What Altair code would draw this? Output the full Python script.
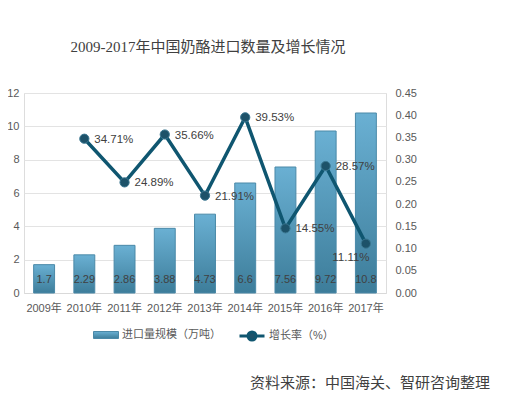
import altair as alt
import pandas as pd

years = ["2009年", "2010年", "2011年", "2012年", "2013年", "2014年", "2015年", "2016年", "2017年"]
volume = [1.7, 2.29, 2.86, 3.88, 4.73, 6.6, 7.56, 9.72, 10.8]
growth = [None, 0.3471, 0.2489, 0.3566, 0.2191, 0.3953, 0.1455, 0.2857, 0.1111]
bar_name = "进口量规模（万吨）"
line_name = "增长率（%）"
title_text = "2009-2017年中国奶酪进口数量及增长情况"
source_text = "资料来源：中国海关、智研咨询整理"
left_ticks = [0, 2, 4, 6, 8, 10, 12]
right_ticks = [0, 0.05, 0.10, 0.15, 0.20, 0.25, 0.30, 0.35, 0.40, 0.45]

df = pd.DataFrame({
    "year": years,
    "volume": volume,
    "growth": growth,
    "bar_series": [bar_name] * len(years),
    "line_series": [line_name] * len(years),
})

FONT = "Liberation Sans, Noto Sans CJK SC"
SERIF = "Liberation Serif, Noto Sans CJK SC"
LBL = "#595959"
TXT = "#404040"

left_axis = alt.Axis(values=left_ticks, tickCount=7, grid=True, gridColor="#e3e3e3",
                     domain=False, ticks=False, labelPadding=5, labelFont=FONT,
                     labelFontSize=11, labelColor=LBL, labelOverlap=False)
right_axis = alt.Axis(orient="right", values=right_ticks, tickCount=10, format=".2f",
                      grid=False, domain=False, ticks=False, labelPadding=9, labelFont=FONT,
                      labelFontSize=11, labelColor=LBL, labelOverlap=False)
left_scale = alt.Scale(domain=[0, 12], nice=False)
right_scale = alt.Scale(domain=[0, 0.45], nice=False)

base = alt.Chart(df).encode(
    x=alt.X("year:N", sort=years, title=None,
            scale=alt.Scale(paddingInner=0.48, paddingOuter=0.24),
            axis=alt.Axis(labelAngle=0, domain=True, domainColor="#d9d9d9", ticks=False,
                          labelPadding=9, labelFont=FONT, labelFontSize=11, labelColor=LBL))
)

grad = alt.Gradient(gradient="linear", x1=0, y1=0, x2=0, y2=1,
                    stops=[alt.GradientStop(color="#6ab0d3", offset=0),
                           alt.GradientStop(color="#3d7d9a", offset=1)])

bars = base.mark_bar(fill=grad, strokeWidth=1).encode(
    y=alt.Y("volume:Q", title=None, scale=left_scale, axis=left_axis),
    stroke=alt.Stroke("bar_series:N",
                      scale=alt.Scale(domain=[bar_name], range=["#4a89a8"]),
                      legend=alt.Legend(orient="none", legendX=69, legendY=229,
                                        direction="horizontal", title=None, padding=0,
                                        symbolType="M-1,-0.28H1V0.28H-1Z", symbolSize=625,
                                        symbolFillColor="#5b9fc1", symbolStrokeWidth=1,
                                        labelFont=FONT, labelFontSize=11, labelColor=LBL,
                                        labelOffset=3)),
)

bar_text = base.mark_text(baseline="middle", dy=-13, font=FONT, fontSize=11, color=TXT).encode(
    y=alt.Y(datum=0, title=None, scale=left_scale, axis=left_axis),
    text=alt.Text("volume:Q"),
)

bar_layer = alt.layer(bars, bar_text)

line = base.mark_line(strokeWidth=3.5).encode(
    y=alt.Y("growth:Q", title=None, scale=right_scale, axis=right_axis),
    stroke=alt.Stroke("line_series:N",
                      scale=alt.Scale(domain=[line_name], range=["#0f5670"]),
                      legend=alt.Legend(orient="none", legendX=214, legendY=229,
                                        direction="horizontal", title=None, padding=0,
                                        symbolType="M-1,0H-0.32M0.32,0H1M-0.32,0A0.32,0.32,0,1,1,0.32,0A0.32,0.32,0,1,1,-0.32,0Z",
                                        symbolSize=625, symbolFillColor="#1d5269",
                                        symbolStrokeWidth=3,
                                        labelFont=FONT, labelFontSize=11, labelColor=LBL,
                                        labelOffset=3)),
)

points = base.mark_point(filled=True, size=85, fill="#1d5269", stroke="#3a7791",
                         strokeWidth=1, opacity=1).encode(
    y=alt.Y("growth:Q", title=None, scale=right_scale, axis=right_axis),
)

line_labels = base.mark_text(align="left", baseline="middle", dx=10, dy=1, font=FONT,
                             fontSize=11.5, color=TXT).encode(
    y=alt.Y("growth:Q", title=None, scale=right_scale, axis=right_axis),
    text=alt.Text("growth:Q", format=".2%"),
).transform_filter("datum.growth != null && datum.year != '2017年'")

last_label = base.mark_text(align="center", baseline="middle", dx=-15, dy=14, font=FONT,
                            fontSize=11.5, color=TXT).encode(
    y=alt.Y("growth:Q", title=None, scale=right_scale, axis=right_axis),
    text=alt.Text("growth:Q", format=".2%"),
).transform_filter("datum.year == '2017年'")

line_layer = alt.layer(line, points, line_labels, last_label)

source = alt.Chart(pd.DataFrame({"t": [source_text]})).mark_text(
    align="right", baseline="middle", font=SERIF, fontSize=15, color=TXT
).encode(text="t:N", x=alt.value(466), y=alt.value(290))

chart = alt.layer(bar_layer, line_layer, source).resolve_scale(
    y="independent", stroke="independent"
).properties(
    width=362, height=200,
    autosize=alt.AutoSizeParams(type="none"),
    padding={"left": 16, "top": 85, "right": 115, "bottom": 100},
    title=alt.TitleParams(title_text, anchor="middle", offset=32, font=SERIF,
                          fontSize=15, fontWeight="normal", color=TXT, dx=3),
).configure_view(stroke=None, strokeWidth=0).configure_axisY(domain=False).configure(
    background="white")

chart.save("out.html", embed_options={"renderer": "svg", "actions": False})
